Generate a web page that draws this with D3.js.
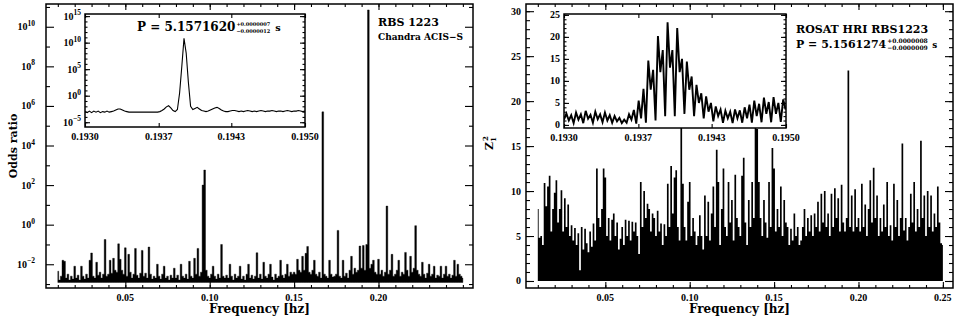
<!DOCTYPE html>
<html>
<head>
<meta charset="utf-8">
<script src="https://cdn.jsdelivr.net/npm/d3@7"></script>
<style>
  body { margin: 0; background: #fff; }
  svg { display: block; }
  .tick line { stroke-width: 1.1; }
</style>
</head>
<body>
<div id="chart"></div>
<script>
// ---- data -------------------------------------------------------------
// main periodograms, frequency grid 0.010 .. 0.250 Hz, step 0.001
var mainFreqStart = 0.010, mainFreqStep = 0.001;

// Chandra ACIS-S odds ratio (log10)
var chandraLogOdds = [
  -2.35,-2.8,-2.6,-1.8,-1.85,-2.7,-2.5,-2.8,-2.6,-2.75,
  -2.1,-2.7,-2.55,-2.8,-2.1,-2.6,-2.75,-2.5,-2.7,-1.8,
  -1.43,-2.6,-2.7,-1.9,-2.55,-2.4,-2.7,-2.5,-0.75,-2.6,
  -2.5,-1.8,-2.45,-1.7,-2.3,-2.4,-0.97,-1.75,-2.3,-2.5,
  -1.17,-2.6,-1.5,-2.4,-2.7,-2.5,-1.2,-2.55,-2.7,-2.45,
  -1.3,-2.6,-2.45,-2.7,-1.13,-2.5,-2.75,-2.6,-2.7,-2.0,
  -2.6,-2.75,-2.5,-2.1,-2.7,-2.6,-2.8,-2.55,-2.7,-2.2,
  -2.7,-2.55,-2.8,-2.0,-2.6,-2.7,-2.5,-2.75,-1.85,-2.6,
  -2.7,-1.7,-2.5,-1.2,-2.6,-2.4,2.0,2.76,-2.3,-2.6,
  -2.7,-2.5,-2.1,-2.6,-2.75,-2.5,-2.7,-1.0,-2.6,-2.7,
  -2.55,-2.7,-2.0,-2.6,-2.8,-2.5,-2.7,-2.6,-2.1,-2.75,
  -2.6,-2.8,-2.5,-2.0,-2.7,-2.55,-2.75,-2.6,-1.42,-2.7,
  -2.5,-2.75,-1.9,-2.6,-2.7,-2.5,-2.0,-2.65,-2.8,-2.5,
  -2.7,-2.6,-1.8,-2.55,-2.7,-2.5,-2.0,-2.6,-2.4,-2.5,
  -2.4,-2.5,-1.75,-2.3,-2.4,-1.6,-2.3,-1.45,-1.1,-2.4,
  -2.5,-2.3,-1.8,-2.5,-2.6,-2.4,-2.7,5.7,-2.5,-2.6,
  -2.7,-1.8,-2.5,-2.65,-2.6,-2.5,-0.29,-2.6,-2.7,-1.8,
  -2.6,-2.45,-2.7,-2.3,-1.6,-2.5,-2.2,-2.4,-2.3,-1.08,
  -2.2,-1.05,-2.3,-1.0,10.85,-2.2,-2.0,-1.8,-2.4,-2.5,
  -1.75,-2.5,-2.3,-2.6,-2.4,0.94,-2.5,-2.3,-1.5,-2.6,
  -2.5,-2.3,-1.8,-2.6,-2.4,-2.5,-1.4,-2.3,-2.6,-1.6,
  -2.4,-2.2,-0.05,-2.3,-2.5,-2.6,-1.9,-2.5,-2.7,-2.45,
  -2.0,-2.6,-2.5,-2.1,-2.7,-2.55,-2.6,-2.1,-2.7,-2.5,
  -2.1,-2.6,-2.5,-2.7,-2.55,-1.8,-2.6,-2.0,-2.5,-2.6,-2.7
];

// ROSAT HRI Z^2_1 power
var rosatZ2 = [
  8.0,4.8,5.0,4.0,10.9,8.3,10.5,11.7,5.5,8.0,
  9.8,11.2,6.5,8.0,10.1,5.5,9.2,6.0,8.5,5.0,
  6.2,4.5,5.9,4.0,5.3,1.2,6.0,3.5,5.8,4.2,
  3.2,5.5,3.8,6.4,4.5,12.5,7.0,6.0,8.0,12.5,
  11.5,5.0,7.0,4.5,6.8,7.5,5.0,6.5,3.5,4.7,
  6.0,4.0,6.8,5.0,6.7,4.5,6.6,5.5,6.5,5.0,
  3.0,11.0,6.0,10.0,7.0,8.6,8.0,5.5,7.5,7.0,
  5.0,7.8,5.5,6.4,4.0,6.3,5.0,10.8,6.0,12.8,
  7.5,11.5,12.3,6.0,4.5,17.5,10.8,6.0,4.5,8.8,
  11.0,5.0,7.0,5.5,4.0,5.0,7.3,5.0,3.5,9.5,
  5.0,8.8,4.5,7.5,10.5,6.0,14.6,11.0,4.0,8.0,
  12.5,6.0,5.0,11.0,6.5,9.0,4.5,11.8,7.0,6.0,
  5.0,11.7,13.7,6.5,4.0,9.0,6.0,11.0,7.0,17.5,
  16.9,11.0,7.0,5.0,9.0,6.5,4.8,11.0,6.0,14.8,
  12.5,5.5,8.0,6.0,10.5,5.0,9.0,6.5,6.0,4.0,
  5.8,4.5,7.5,5.0,6.0,4.0,4.5,6.0,8.0,5.0,
  7.0,5.5,7.3,5.0,7.5,6.0,8.8,5.5,9.7,6.5,
  10.0,6.0,7.5,5.0,9.7,6.0,10.3,7.0,9.2,5.5,
  10.7,6.5,5.5,7.0,23.4,6.0,9.5,5.5,10.2,6.0,
  7.0,5.5,10.8,6.0,8.5,5.0,8.0,11.2,6.5,12.6,
  7.0,9.5,5.0,7.0,5.5,8.5,6.0,11.0,5.0,6.2,
  4.5,10.8,6.0,9.0,5.0,7.0,15.3,5.6,7.0,4.5,
  6.0,9.7,6.5,11.0,5.5,8.0,6.0,15.6,7.0,9.5,
  5.0,10.0,6.0,9.5,5.5,7.5,6.0,10.5,6.5,4.2,4.0
];

// zoomed periodograms around the pulsar frequency
var insetFreqStart = 0.1930;
var chandraInsetStep = 0.00002;
var chandraInsetLogOdds = [
  -3.0,-3.2,-2.9,-3.2,-2.9,-3.1,-2.9,-3.2,-3.0,-3.1,
  -2.9,-3.1,-3.0,-2.9,-2.7,-2.5,-2.5,-2.7,-2.9,-3.0,
  -3.1,-3.1,-3.1,-3.1,-3.1,-3.1,-3.1,-3.1,-3.1,-3.1,
  -3.1,-3.1,-3.1,-3.1,-3.0,-2.8,-2.5,-2.1,-1.9,-2.3,
  -2.8,-3.0,-2.6,0.5,5.5,10.8,8.0,2.5,-2.0,-2.6,
  -2.4,-2.2,-2.5,-2.8,-2.9,-3.0,-2.9,-2.7,-2.5,-2.3,
  -2.2,-2.4,-2.7,-2.9,-3.0,-3.0,-2.9,-2.8,-2.8,-2.9,
  -3.0,-2.9,-3.0,-2.9,-2.8,-2.9,-3.0,-2.9,-3.0,-2.9,
  -2.8,-2.9,-3.0,-2.9,-2.9,-2.8,-2.9,-3.0,-2.9,-2.9,
  -3.0,-2.9,-2.8,-2.9,-3.0,-2.9,-2.9,-2.8,-2.9,-3.0,
  -2.9
];
var rosatInsetStep = 0.0000217;
var rosatInsetZ2 = [
  1.2,2.6,1.0,2.2,0.4,2.8,1.2,2.4,0.4,3.2,
  1.4,2.3,0.5,3.0,1.3,2.4,0.6,2.8,1.0,2.2,
  0.5,2.0,0.8,1.6,0.4,1.2,0.5,2.4,1.2,3.4,
  0.3,5.5,1.5,8.2,0.5,14.6,8.0,12.5,1.0,20.2,
  12.0,17.0,2.0,23.3,13.0,17.0,2.0,22.0,12.0,15.0,
  2.5,14.4,8.0,11.0,2.0,9.1,5.0,7.2,1.5,6.5,
  3.0,5.0,0.8,4.2,2.0,3.5,0.5,3.2,1.5,3.0,
  0.4,3.5,1.5,3.3,0.5,4.0,1.5,4.6,0.5,5.5,
  2.0,4.8,0.6,6.2,2.5,5.2,0.6,6.3,2.5,5.0,
  0.7,5.8,3.5
];

// ticks and labels
var mainXMajorLeft = [0.05, 0.10, 0.15, 0.20];
var mainXMajorRight = [0.05, 0.10, 0.15, 0.20, 0.25];
var mainXMinor = d3.range(1, 26).map(function(d) { return d / 100; });
var oddsMajor = [-2, 0, 2, 4, 6, 8, 10];
var oddsMinor = [-3, -1, 1, 3, 5, 7, 9, 11];
var z2Major = [0, 5, 10, 15, 20, 25, 30];
var z2Minor = d3.range(0, 31);
var insetOddsMajor = [-5, 0, 5, 10, 15];
var insetOddsMinor = d3.range(-5, 16);
var insetZ2Major = [0, 5, 10, 15, 20, 25];
var insetZ2Minor = d3.range(0, 26);
var insetXMajor = [0.1930, 0.19367, 0.19433, 0.1950];
var insetXLabels = ["0.1930", "0.1937", "0.1943", "0.1950"];

var width = 959, height = 319;
var serif = "'DejaVu Serif', serif";
var tickFont = "'Liberation Serif', serif";

var svg = d3.select("#chart").append("svg")
    .attr("width", width)
    .attr("height", height)
    .style("font-family", serif)
    .style("font-weight", "bold");

// scales
var mainDomain = [0.003, 0.256];
var leftX = d3.scaleLinear().domain(mainDomain).range([46, 473]);
var leftY = d3.scaleLinear().domain([-3.2, 11.15]).range([288, 4]);
var rightX = d3.scaleLinear().domain(mainDomain).range([526, 953]);
var rightY = d3.scaleLinear().domain([-0.78, 30.8]).range([288, 4]);
var inLX = d3.scaleLinear().domain([0.1930, 0.1950]).range([85, 305]);
var inLY = d3.scaleLinear().domain([-5.9, 15.4]).range([127, 14]);
var inRX = d3.scaleLinear().domain([0.1930, 0.1950]).range([564, 786]);
var inRY = d3.scaleLinear().domain([-0.7, 25.2]).range([128, 14]);

function series(vals, start, step) {
  return vals.map(function(v, i) { return { f: start + i * step, v: v }; });
}

var clipId = 0;
function clipTo(x, y) {
  var id = "clip" + (clipId++);
  svg.append("clipPath").attr("id", id)
    .append("rect")
      .attr("x", x.range()[0]).attr("y", y.range()[1])
      .attr("width", x.range()[1] - x.range()[0])
      .attr("height", y.range()[0] - y.range()[1]);
  return "url(#" + id + ")";
}

// ticks on all four sides, pointing inward, plus the frame
function frame(x, y, o) {
  var g = svg.append("g");
  var x0 = x.range()[0], x1 = x.range()[1], yb = y.range()[0], yt = y.range()[1];
  var sides = [
    [d3.axisBottom(x), "translate(0," + yb + ")", o.xMajor, o.xMinor, o.xLen],
    [d3.axisTop(x), "translate(0," + yt + ")", o.xMajor, o.xMinor, o.xLen],
    [d3.axisLeft(y), "translate(" + x0 + ",0)", o.yMajor, o.yMinor, o.yLen],
    [d3.axisRight(y), "translate(" + x1 + ",0)", o.yMajor, o.yMinor, o.yLen]
  ];
  sides.forEach(function(s) {
    [[s[2], s[4]], [s[3], s[4] / 2]].forEach(function(t) {
      if (!t[0].length) return;
      g.append("g")
        .attr("transform", s[1])
        .call(s[0].tickValues(t[0]).tickSize(-t[1]).tickFormat(""))
        .call(function(a) { a.select(".domain").remove(); });
    });
  });
  g.append("rect")
    .attr("x", x0).attr("y", yt)
    .attr("width", x1 - x0).attr("height", yb - yt)
    .attr("fill", "none").attr("stroke", "#000").attr("stroke-width", 1.5);
  return g;
}

function xLabels(x, y, vals, labels, size, dy) {
  svg.append("g").selectAll("text").data(vals).enter().append("text")
    .attr("x", function(d) { return x(d); })
    .attr("y", y.range()[0] + dy)
    .attr("text-anchor", "middle")
    .attr("font-family", tickFont)
    .attr("font-size", size)
    .text(function(d, i) { return labels ? labels[i] : d.toFixed(2); });
}

function yLabels(x, y, vals, size, pad, pow) {
  svg.append("g").selectAll("text").data(vals).enter().append("text")
    .attr("x", x.range()[0] - pad)
    .attr("y", function(d) { return y(d) + size * 0.35; })
    .attr("text-anchor", "end")
    .attr("font-family", tickFont)
    .attr("font-size", size)
    .each(function(d) {
      var t = d3.select(this);
      if (pow) {
        t.append("tspan").text("10");
        t.append("tspan").attr("dy", -size * 0.45).attr("font-size", size * 0.75)
          .text(d < 0 ? "\u2212" + (-d) : d);
      } else {
        t.text(d);
      }
    });
}

// ---- left panel: Chandra ------------------------------------------------
var chandra = series(chandraLogOdds, mainFreqStart, mainFreqStep);
var oddsFloor = -2.92;
svg.append("path")
    .datum(chandra)
    .attr("clip-path", clipTo(leftX, leftY))
    .attr("fill", "#000")
    .attr("stroke", "#000")
    .attr("stroke-width", 0.4)
    .attr("d", d3.area()
      .curve(d3.curveStep)
      .x(function(d) { return leftX(d.f); })
      .y0(leftY(oddsFloor))
      .y1(function(d) { return leftY(d.v); }));

frame(leftX, leftY, { xMajor: mainXMajorLeft, xMinor: mainXMinor, xLen: 6,
                      yMajor: oddsMajor, yMinor: oddsMinor, yLen: 8 });
xLabels(leftX, leftY, mainXMajorLeft, null, 10, 13);
yLabels(leftX, leftY, oddsMajor, 10, 11, true);

// inset
svg.append("rect").attr("x", 85).attr("y", 14).attr("width", 220).attr("height", 113)
  .attr("fill", "#fff");
svg.append("path")
    .datum(series(chandraInsetLogOdds, insetFreqStart, chandraInsetStep))
    .attr("clip-path", clipTo(inLX, inLY))
    .attr("fill", "none")
    .attr("stroke", "#000")
    .attr("stroke-width", 1.1)
    .attr("d", d3.line()
      .x(function(d) { return inLX(d.f); })
      .y(function(d) { return inLY(d.v); }));
frame(inLX, inLY, { xMajor: insetXMajor, xMinor: [], xLen: 4,
                    yMajor: insetOddsMajor, yMinor: insetOddsMinor, yLen: 5 });
xLabels(inLX, inLY, insetXMajor, insetXLabels, 10, 13);
yLabels(inLX, inLY, insetOddsMajor, 10, 4, true);

// ---- right panel: ROSAT -------------------------------------------------
svg.append("path")
    .datum(series(rosatZ2, mainFreqStart, mainFreqStep))
    .attr("clip-path", clipTo(rightX, rightY))
    .attr("fill", "#000")
    .attr("stroke", "none")
    .attr("d", d3.area()
      .curve(d3.curveStep)
      .x(function(d) { return rightX(d.f); })
      .y0(rightY(0))
      .y1(function(d) { return rightY(d.v); }));

frame(rightX, rightY, { xMajor: mainXMajorRight, xMinor: mainXMinor, xLen: 6,
                        yMajor: z2Major, yMinor: z2Minor, yLen: 8 });
xLabels(rightX, rightY, mainXMajorRight, null, 10, 13);
yLabels(rightX, rightY, z2Major, 10, 5, false);

svg.append("rect").attr("x", 564).attr("y", 14).attr("width", 222).attr("height", 114)
  .attr("fill", "#fff");
svg.append("path")
    .datum(series(rosatInsetZ2, insetFreqStart, rosatInsetStep))
    .attr("clip-path", clipTo(inRX, inRY))
    .attr("fill", "none")
    .attr("stroke", "#000")
    .attr("stroke-width", 1.9)
    .attr("d", d3.line()
      .x(function(d) { return inRX(d.f); })
      .y(function(d) { return inRY(d.v); }));
frame(inRX, inRY, { xMajor: insetXMajor, xMinor: [], xLen: 4,
                    yMajor: insetZ2Major, yMinor: insetZ2Minor, yLen: 5 });
xLabels(inRX, inRY, insetXMajor, insetXLabels, 10, 13);
yLabels(inRX, inRY, insetZ2Major, 10, 4, false);

// ---- titles and annotations ---------------------------------------------
function periodLabel(x, y, main, up, down, size, subSize) {
  var t = svg.append("text").attr("x", x).attr("y", y).attr("font-size", size).text(main);
  var w = t.node().getComputedTextLength();
  var a = svg.append("text").attr("x", x + w + 1).attr("y", y - size * 0.42)
    .attr("font-size", subSize).text(up);
  var b = svg.append("text").attr("x", x + w + 1).attr("y", y + subSize * 0.3)
    .attr("font-size", subSize).text(down);
  var w2 = Math.max(a.node().getComputedTextLength(), b.node().getComputedTextLength());
  svg.append("text").attr("x", x + w + w2 + size * 0.5).attr("y", y)
    .attr("font-size", size * 0.8).text("s");
}

periodLabel(137, 31, "P = 5.1571620", "+0.0000007", "\u22120.0000012", 12, 5);
svg.append("text").attr("x", 378).attr("y", 26).attr("font-size", 11).text("RBS 1223");
svg.append("text").attr("x", 378).attr("y", 40).attr("font-size", 9).text("Chandra ACIS\u2212S");

svg.append("text").attr("x", 796).attr("y", 33).attr("font-size", 11).text("ROSAT HRI RBS1223");
periodLabel(796, 48, "P = 5.1561274", "+0.0000008", "\u22120.0000009", 11, 6);

svg.append("text")
    .attr("x", leftX(0.1295)).attr("y", 313)
    .attr("text-anchor", "middle").attr("font-size", 12)
    .text("Frequency [hz]");
svg.append("text")
    .attr("x", rightX(0.1295)).attr("y", 313)
    .attr("text-anchor", "middle").attr("font-size", 12)
    .text("Frequency [hz]");

svg.append("text")
    .attr("transform", "translate(17,146) rotate(-90)")
    .attr("text-anchor", "middle").attr("font-size", 11)
    .text("Odds ratio");

var zt = svg.append("text")
    .attr("transform", "translate(493,150) rotate(-90)")
    .attr("font-size", 11);
zt.append("tspan").text("Z");
zt.append("tspan").attr("dy", 3).attr("font-size", 7).text("1");
zt.append("tspan").attr("dx", -4).attr("dy", -8).attr("font-size", 7).text("2");
</script>
</body>
</html>
